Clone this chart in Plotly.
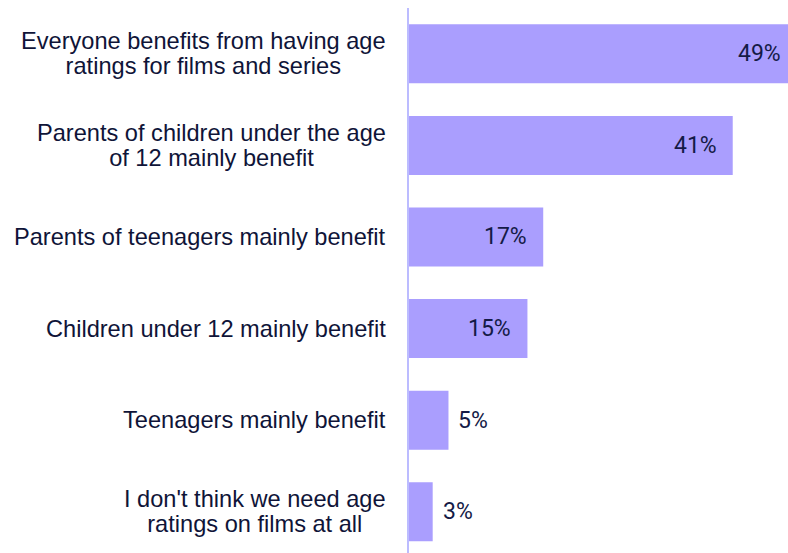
import plotly.graph_objects as go

categories = [
    "Everyone benefits from having age<br>ratings for films and series",
    "Parents of children under the age<br>of 12 mainly benefit",
    "Parents of teenagers mainly benefit",
    "Children under 12 mainly benefit",
    "Teenagers mainly benefit",
    "I don't think we need age<br>ratings on films at all",
]
values = [49, 41, 17, 15, 5, 3]
value_labels = ["49%", "41%", "17%", "15%", "5%", "3%"]

BAR_COLOR = "#aa9efe"
LABEL_COLOR = "#0f1438"
VALUE_COLOR = "#141a46"
X_MAX = 48

ids = list(range(len(categories)))

fig = go.Figure()
fig.add_trace(go.Bar(
    x=values, y=ids, orientation="h",
    marker=dict(color=BAR_COLOR, line=dict(width=0)),
    hoverinfo="skip",
))

annotations = []
for i, (cat, v, lab) in enumerate(zip(categories, values, value_labels)):
    lines = cat.split("<br>")
    styled = "<br>".join(f"<span style='font-size:23.6px'>{ln}</span>" for ln in lines)
    annotations.append(dict(
        x=0, xref="paper", y=i, yref="y", xanchor="right", yanchor="middle",
        xshift=-21, text=styled, showarrow=False, align="center",
        font=dict(family="Liberation Sans, Arial, sans-serif", size=19.2, color=LABEL_COLOR),
    ))
    inside = v >= 10
    annotations.append(dict(
        x=min(v, X_MAX), xref="x", y=i, yref="y",
        xanchor="right" if inside else "left", yanchor="middle",
        xshift=(-5 if v > X_MAX else -14) if inside else 8, text=lab, showarrow=False,
        font=dict(family="Roboto, sans-serif", size=23, color=VALUE_COLOR),
    ))

fig.update_layout(
    width=788, height=553,
    margin=dict(l=409, r=0, t=8, b=0),
    paper_bgcolor="white", plot_bgcolor="white",
    bargap=0.356,
    showlegend=False,
    annotations=annotations,
    xaxis=dict(range=[0, X_MAX], showgrid=False, zeroline=False, showticklabels=False,
               showline=False, fixedrange=True),
    yaxis=dict(range=[5.45, -0.5], showgrid=False, zeroline=False, showticklabels=False,
               showline=True, linecolor="#bcbcff", linewidth=2, fixedrange=True),
)

fig.write_html("out.html")
